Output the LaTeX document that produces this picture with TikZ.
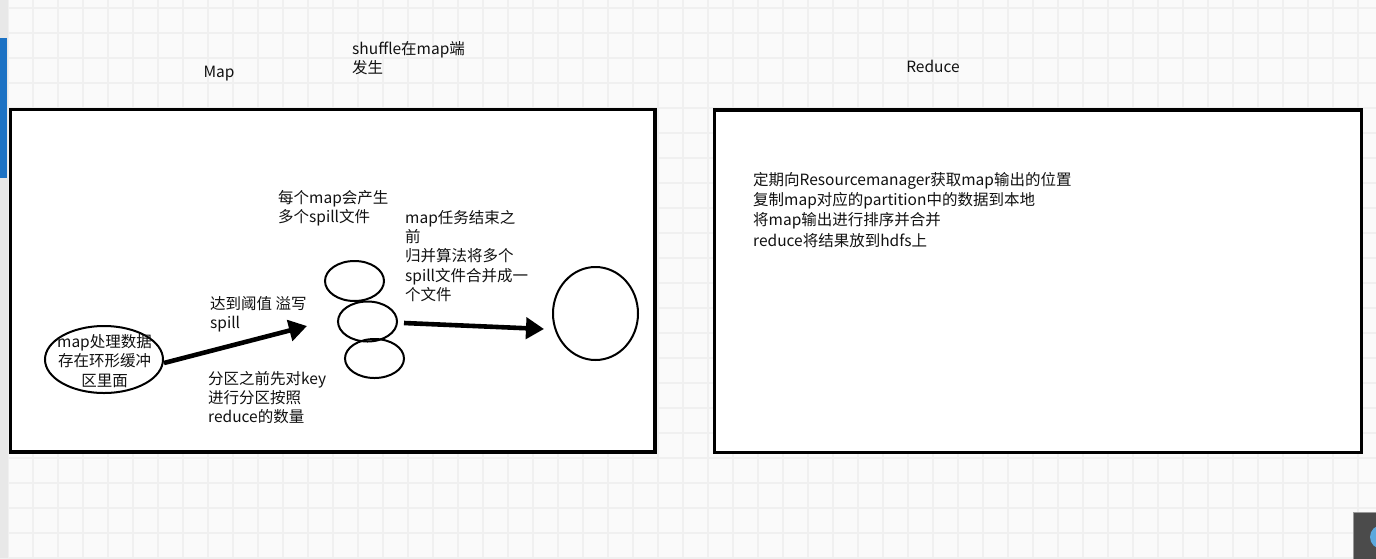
\documentclass[tikz,border=0pt]{standalone}
\usepackage{fontspec}
\setmainfont{Noto Sans CJK SC}
\usetikzlibrary{arrows.meta,shapes.geometric}
\definecolor{canvas}{HTML}{FAFAFA}
\definecolor{gridline}{HTML}{F0F0F0}
\definecolor{ink}{HTML}{111111}
\definecolor{sidebar}{HTML}{E8E8E8}
\definecolor{tab}{HTML}{1C72C4}
\definecolor{dock}{HTML}{4B4B4B}
\definecolor{dockedge}{HTML}{9A9A9A}
\definecolor{dockicon}{HTML}{5BA8DD}

\begin{document}
\begin{tikzpicture}[x=1pt,y=-1pt,
  txt/.style={font=\fontsize{15.5}{19.3}\selectfont, text=ink, inner sep=0pt,
              align=left, anchor=north west},
  lead/.style={execute at begin node={\rule{0pt}{12.9pt}}},
  title/.style={font=\fontsize{15.5}{19.3}\selectfont, text=ink, inner sep=0pt},
  panel/.style={rectangle, draw=black, line width=3.2pt, fill=white, inner sep=0pt},
  bubble/.style={ellipse, draw=black, line width=2pt, inner sep=0pt},
  flow/.style={draw=black, line width=4.6pt, -{Triangle[length=18pt,width=21pt]}},
]
\useasboundingbox (0,0) rectangle (1376,558);

% canvas with its grid
\fill[canvas] (0,0) rectangle (1376,558);
\foreach \gx in {8,33,...,1376} \draw[gridline, line width=2pt] (\gx,0) -- (\gx,558);
\foreach \gy in {8,33,...,558} \draw[gridline, line width=2pt] (0,\gy) -- (1376,\gy);

% window edge and dock
\fill[sidebar] (0,0) rectangle (8,558);
\fill[tab] (0,38) rectangle (7,178);
\begin{scope}
  \clip (1353,512) rectangle (1376,558);
  \fill[dock, draw=dockedge, line width=1pt] (1353,512) rectangle (1380,560);
  \fill[dockicon] (1382,537) circle (12);
\end{scope}

% headings
\node[title] (mapttl) at (219,74) {Map};
\node[title] (reducettl) at (933,66) {Reduce};
\node[txt, lead] (shufflenote) at (352,41) {shuffle在map端\\发生};

% the two stages
\node[panel, minimum width=644.5pt, minimum height=342.5pt] (mapbox) at (332.75,280.75) {};
\node[panel, minimum width=647pt, minimum height=342.5pt] (reducebox) at (1038,281.25) {};

% map side
\node[bubble, minimum width=118pt, minimum height=67pt] (mapbuf) at (104,359.5) {};
\node[title, align=center] (buftext) at (104.5,361) {map处理数据\\存在环形缓冲\\区里面};

\node[bubble, minimum width=59pt, minimum height=40pt] (spill1) at (354.5,281) {};
\node[bubble, minimum width=59pt, minimum height=40pt] (spill2) at (367.5,321.5) {};
\node[bubble, minimum width=59pt, minimum height=39pt] (spill3) at (374.5,358.5) {};
\node[bubble, minimum width=85pt, minimum height=93pt] (merged) at (595.5,313.5) {};

\coordinate (spilltip) at (307,326);
\draw[flow] ([yshift=-3.5pt]mapbuf.east) -- (spilltip);
\draw[flow] ([xshift=6pt,yshift=-1.5pt]spill2.east) -- ([xshift=-8pt,yshift=-15.5pt]merged.west);

\node[txt, lead] (spillnote) at (278,190) {每个map会产生\\多个spill文件};
\node[txt, lead] (mergenote) at (405,210) {map任务结束之\\前\\归并算法将多个\\spill文件合并成一\\个文件};
\node[txt, lead] (thresh) at (210,296) {达到阈值 溢写\\spill};
\node[txt, lead] (partnote) at (208,371) {分区之前先对key\\进行分区按照\\reduce的数量};

% reduce side
\node[txt, lead, font=\fontsize{15.5}{20.3}\selectfont] (reducenote) at (753,172)
  {定期向Resourcemanager获取map输出的位置\\复制map对应的partition中的数据到本地\\将map输出进行排序并合并\\reduce将结果放到hdfs上};
\end{tikzpicture}
\end{document}
